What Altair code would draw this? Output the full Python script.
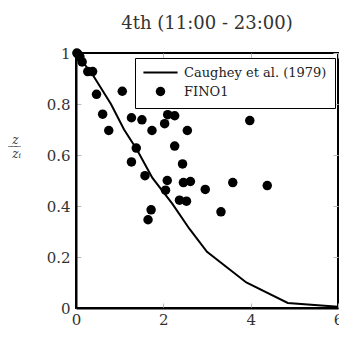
import altair as alt
import pandas as pd

# FINO1 measurements (x value, z/zi)
fino_x = [0.02, 0.05, 0.09, 0.14, 0.27, 0.38, 0.47, 1.06, 0.61, 1.27, 1.51, 0.75,
          2.10, 2.26, 2.03, 1.74, 2.55, 1.38, 2.26, 1.27, 2.44, 1.58, 2.09, 2.46,
          2.62, 2.05, 2.96, 2.37, 2.53, 1.72, 1.65, 3.32, 3.59, 3.98, 4.38]
fino_y = [1.0, 0.995, 0.985, 0.965, 0.927, 0.927, 0.838, 0.85, 0.76, 0.746, 0.738, 0.696,
          0.758, 0.754, 0.723, 0.696, 0.696, 0.627, 0.635, 0.573, 0.565, 0.519, 0.50, 0.492,
          0.496, 0.462, 0.465, 0.423, 0.419, 0.385, 0.346, 0.377, 0.492, 0.735, 0.48]

# Caughey et al. (1979) profile
caughey_x = [0.0, 0.4, 0.8, 1.1, 1.4, 1.75, 2.2, 2.6, 3.0, 3.9, 4.85, 6.0]
caughey_y = [1.0, 0.91, 0.80, 0.70, 0.62, 0.51, 0.41, 0.31, 0.22, 0.10, 0.02, 0.005]

series_names = ["Caughey et al. (1979)", "FINO1"]
x_ticks = [0, 2, 4, 6]
y_ticks = [0, 0.2, 0.4, 0.6, 0.8, 1]
title_text = "4th (11:00 - 23:00)"

pts = pd.DataFrame({"x": fino_x, "y": fino_y, "series": "FINO1"})
line_df = pd.DataFrame({"x": caughey_x, "y": caughey_y, "o": list(range(len(caughey_x)))})

font = "DejaVu Serif"
xs = alt.Scale(domain=[0, 6], nice=False)
ys = alt.Scale(domain=[0, 1], nice=False)

W, H = 262, 255

common_axis = dict(ticks=False, grid=True, gridColor="#bbbbbb", gridWidth=1,
                   domainColor="black", domainWidth=2, labelFont=font, labelFontSize=15,
                   labelColor="#333333", labelFlush=False, labelExpr="format(datum.value, '~g')")

xax = alt.Axis(values=x_ticks, title=None, gridDash=[5, H - 10, 5, 1000], labelPadding=4,
               **common_axis)
yax = alt.Axis(values=y_ticks, title=["\u2009\u0332z\u0332\u2009\u0332", "zᵢ"], titleAngle=0,
               titleFont=font, titleFontStyle="italic", titleFontWeight="normal",
               titleFontSize=12, titleLineHeight=14, titleColor="#333333",
               titleX=-60, titleY=86, titleAlign="center", titleBaseline="middle",
               gridDash=[5, W - 10, 5, 1000], labelPadding=6, **common_axis)

line = alt.Chart(line_df).mark_line(color="black", strokeWidth=2, clip=False).encode(
    x=alt.X("x:Q", scale=xs, axis=xax),
    y=alt.Y("y:Q", scale=ys, axis=yax),
    order="o:Q",
)

line_symbol = "M-3.6,-0.22H3.6V0.22H-3.6Z"

points = alt.Chart(pts).mark_point(filled=True, color="black", size=90, opacity=1).encode(
    x=alt.X("x:Q", scale=xs),
    y=alt.Y("y:Q", scale=ys),
    shape=alt.Shape("series:N",
                    scale=alt.Scale(domain=series_names, range=[line_symbol, "circle"]),
                    legend=alt.Legend(title=None, orient="none", legendX=59, legendY=5,
                                      strokeColor="black", fillColor="white",
                                      padding=8, rowPadding=3, symbolSize=90,
                                      symbolOffset=11, labelOffset=17,
                                      symbolFillColor="black", symbolOpacity=1,
                                      labelFont=font, labelFontSize=13,
                                      labelColor="#222222", labelLimit=300)),
)

chart = alt.layer(line, points).properties(
    width=W, height=H,
    title=alt.TitleParams(title_text, font=font, fontSize=18, fontWeight="normal",
                          color="#333333", offset=13, anchor="middle"),
    autosize=alt.AutoSizeParams(type="none"),
    padding={"left": 68, "top": 45, "right": 1, "bottom": 19},
).configure_view(stroke="black", strokeWidth=2).configure_legend(labelFont=font)

chart.save("out.html", embed_options={"renderer": "svg", "actions": False})
